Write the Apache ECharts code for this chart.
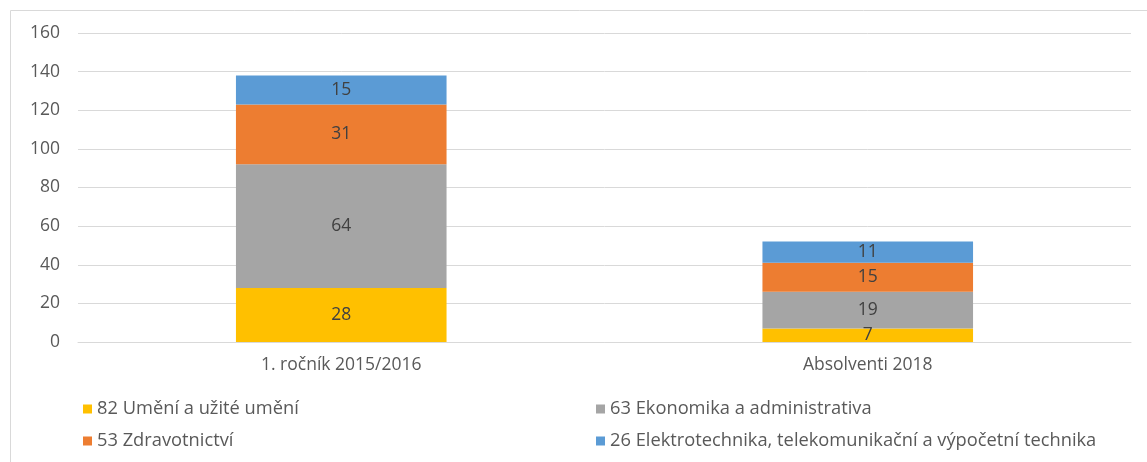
<!DOCTYPE html>
<html>
<head>
<meta charset="utf-8">
<script src="https://cdn.jsdelivr.net/npm/echarts@6/dist/echarts.min.js"></script>
<style>
  html, body { margin: 0; padding: 0; background: #fff; }
  #container { width: 1147px; height: 462px; }
</style>
</head>
<body>
<div id="container"></div>
<script>
const categories = ["1. ročník 2015/2016", "Absolventi 2018"];
const seriesNames = [
  "82 Umění a užité umění",
  "63 Ekonomika a administrativa",
  "53 Zdravotnictví",
  "26 Elektrotechnika, telekomunikační a výpočetní technika",
];
const umeni = [28, 7];
const ekonomika = [64, 19];
const zdravotnictvi = [31, 15];
const elektro = [15, 11];
const colors = ["#FFC000", "#A5A5A5", "#ED7D31", "#5B9BD5"];

const font = "Open Sans";
const values = [umeni, ekonomika, zdravotnictvi, elektro];

const series = values.map((v, i) => ({
  name: seriesNames[i],
  type: "bar",
  stack: "total",
  data: v,
  barWidth: "40%",
  itemStyle: { color: colors[i] },
  label: {
    show: true,
    position: "inside",
    color: "#404040",
    fontSize: 17.5,
    fontFamily: font,
  },
}));

const legendStyle = {
  orient: "vertical",
  itemWidth: 9,
  itemHeight: 9,
  itemGap: 14,
  icon: "rect",
  textStyle: { color: "#595959", fontSize: 18.3, fontFamily: font },
};

const option = {
  animation: false,
  graphic: [
    {
      type: "rect",
      shape: { x: 10.5, y: 10.5, width: 1200, height: 500 },
      style: { fill: "none", stroke: "#d9d9d9", lineWidth: 1 },
    },
  ],
  legend: [
    Object.assign({ left: 78, top: 395, data: [seriesNames[0], seriesNames[2]] }, legendStyle),
    Object.assign({ left: 591, top: 395, data: [seriesNames[1], seriesNames[3]] }, legendStyle),
  ],
  grid: { left: 78, right: 16, top: 33, bottom: 120 },
  xAxis: {
    type: "category",
    data: categories,
    axisTick: { show: false },
    axisLine: { lineStyle: { color: "#d9d9d9" } },
    axisLabel: { color: "#595959", fontSize: 17.5, fontFamily: font, margin: 14 },
  },
  yAxis: {
    type: "value",
    min: 0,
    max: 160,
    interval: 20,
    axisLine: { show: false },
    axisTick: { show: false },
    splitLine: { lineStyle: { color: "#d9d9d9" } },
    axisLabel: { color: "#595959", fontSize: 17.5, fontFamily: font, margin: 18 },
  },
  series: series,
};

const chart = echarts.init(document.getElementById("container"));
chart.setOption(option);
</script>
</body>
</html>
